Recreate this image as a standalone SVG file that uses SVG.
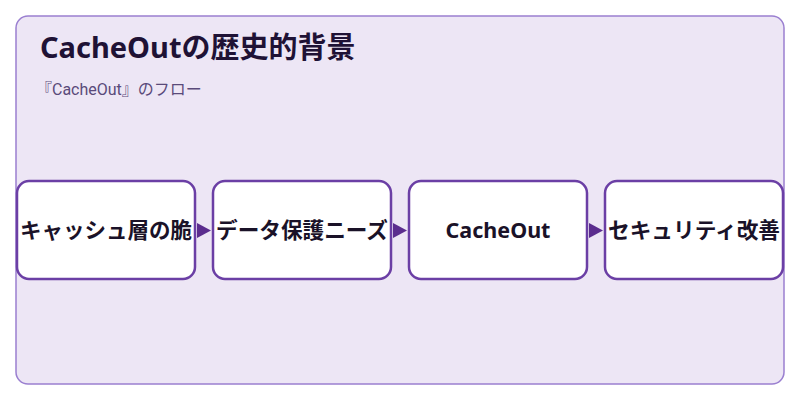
<svg xmlns="http://www.w3.org/2000/svg" width="800" height="400" viewBox="0 0 800 400">
<style>
.n rect{fill:#fff;stroke:#6b3fa5;stroke-width:2.5}
.n text{font-family:"Noto Sans","Noto Sans CJK JP",sans-serif;font-weight:bold;font-size:21.5px;fill:#1a1228;text-anchor:middle}
.c path{fill:#5b2d8e}
</style>
<rect x="16" y="16" width="768" height="368" rx="12" fill="#ede6f5" stroke="#9a7fd0" stroke-width="1.5"/>
<text x="40" y="58" font-family="'Noto Sans','Noto Sans CJK JP',sans-serif" font-weight="bold" font-size="29" fill="#1f1235">CacheOutの歴史的背景</text>
<text x="36" y="95" font-family="Roboto,'Noto Sans CJK JP',sans-serif" font-size="16" fill="#5a4a7a">『CacheOut』のフロー</text>
<g class="c">
<path d="M197 223L211 230.5L197 238Z"/>
<path d="M393 223L407 230.5L393 238Z"/>
<path d="M589 223L603 230.5L589 238Z"/>
</g>
<g id="n1" class="n"><rect x="17" y="181" width="178" height="98" rx="12"/><text x="106" y="238" textLength="172" lengthAdjust="spacingAndGlyphs">キャッシュ層の脆</text></g>
<g id="n2" class="n"><rect x="213" y="181" width="178" height="98" rx="12"/><text x="302" y="238" textLength="172" lengthAdjust="spacingAndGlyphs">データ保護ニーズ</text></g>
<g id="n3" class="n"><rect x="409" y="181" width="178" height="98" rx="12"/><text x="498" y="238">CacheOut</text></g>
<g id="n4" class="n"><rect x="605" y="181" width="178" height="98" rx="12"/><text x="694" y="238" textLength="172" lengthAdjust="spacingAndGlyphs">セキュリティ改善</text></g>
</svg>
